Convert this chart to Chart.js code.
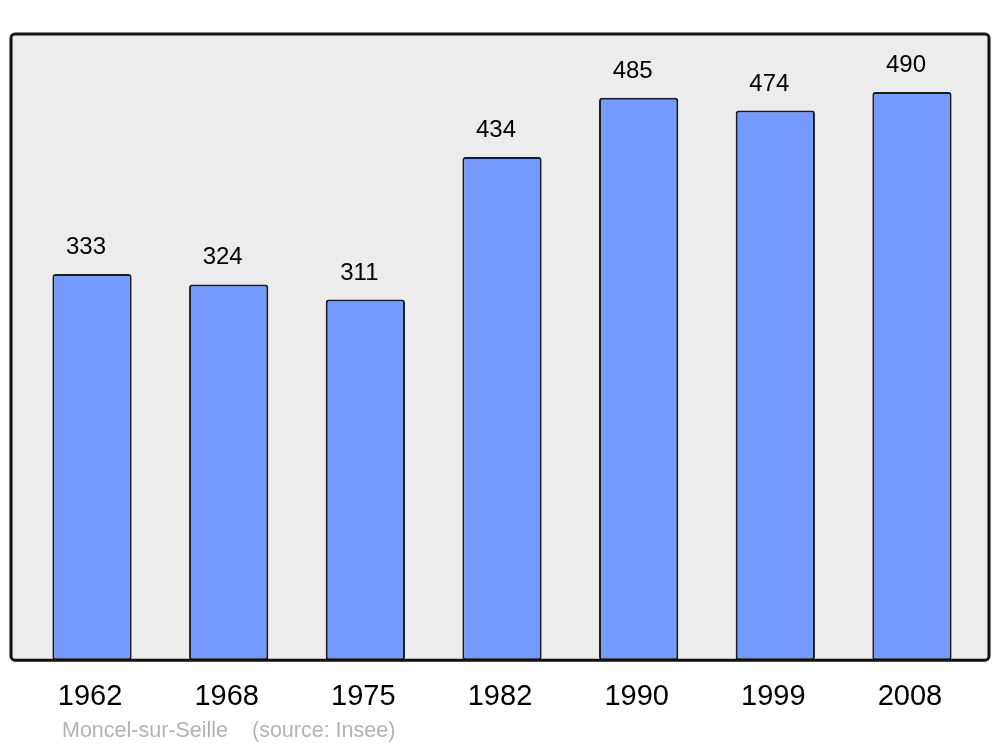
<!DOCTYPE html>
<html>
<head>
<meta charset="utf-8">
<script src="https://cdn.jsdelivr.net/npm/chart.js@4/dist/chart.umd.min.js"></script>
<style>
    html, body { margin: 0; padding: 0; background: #fff; }
    #wrap { width: 1000px; height: 747px; }
</style>
</head>
<body>
<div id="wrap"><canvas id="myChart" width="1000" height="747"></canvas></div>
<script>
// --- Data ---
const years = ["1962", "1968", "1975", "1982", "1990", "1999", "2008"];
const population = [333, 324, 311, 434, 485, 474, 490];
const sourceText = "Moncel-sur-Seille    (source: Insee)";

// background frame + value labels + source line
const framePlugin = {
    id: "frame",
    beforeDatasetsDraw(chart) {
        const { ctx, chartArea } = chart;
        const x0 = chartArea.left - 10.7, x1 = chartArea.right + 10.7;
        const y0 = chartArea.top, y1 = chartArea.bottom;
        ctx.save();
        ctx.beginPath();
        ctx.roundRect(x0, y0, x1 - x0, y1 - y0, 4);
        ctx.fillStyle = "#ececec";
        ctx.fill();
        ctx.restore();
    },
    afterDatasetsDraw(chart) {
        const { ctx, chartArea } = chart;
        const x0 = chartArea.left - 10.7, x1 = chartArea.right + 10.7;
        const y0 = chartArea.top, y1 = chartArea.bottom;
        ctx.save();
        ctx.beginPath();
        ctx.roundRect(x0, y0, x1 - x0, y1 - y0, 4);
        ctx.lineWidth = 3;
        ctx.strokeStyle = "#111";
        ctx.stroke();

        ctx.font = "24px 'Liberation Sans', Arial, sans-serif";
        ctx.fillStyle = "#000";
        ctx.textAlign = "center";
        ctx.textBaseline = "alphabetic";
        chart.getDatasetMeta(0).data.forEach((bar, i) => {
            ctx.fillText(String(population[i]), bar.x - 6, bar.y - 20);
        });

        ctx.font = "21.5px 'Liberation Sans', Arial, sans-serif";
        ctx.fillStyle = "#b3b3b3";
        ctx.textAlign = "left";
        ctx.fillText(sourceText, 62, 737);
        ctx.restore();
    }
};

new Chart(document.getElementById("myChart"), {
    type: "bar",
    data: {
        labels: years,
        datasets: [{
            data: population,
            backgroundColor: "#7499ff",
            borderColor: "#1a1a1a",
            borderWidth: 2,
            borderRadius: 3,
            borderSkipped: false,
            barPercentage: 0.58,
            categoryPercentage: 1
        }]
    },
    options: {
        responsive: false,
        animation: false,
        layout: { padding: { left: 21.7, right: 21.7, top: 34, bottom: 14 } },
        plugins: { legend: { display: false }, tooltip: { enabled: false } },
        scales: {
            y: { display: false, min: 0, max: 540 },
            x: {
                grid: { display: false, drawTicks: false },
                border: { display: false },
                ticks: {
                    color: "#000",
                    padding: 19,
                    font: { family: "'Liberation Sans', Arial, sans-serif", size: 29 }
                }
            }
        }
    },
    plugins: [{
        id: "shiftBars",
        afterDatasetsUpdate(chart) {
            chart.getDatasetMeta(0).data.forEach(bar => { bar.x += 2; });
        }
    }, framePlugin]
});
</script>
</body>
</html>
